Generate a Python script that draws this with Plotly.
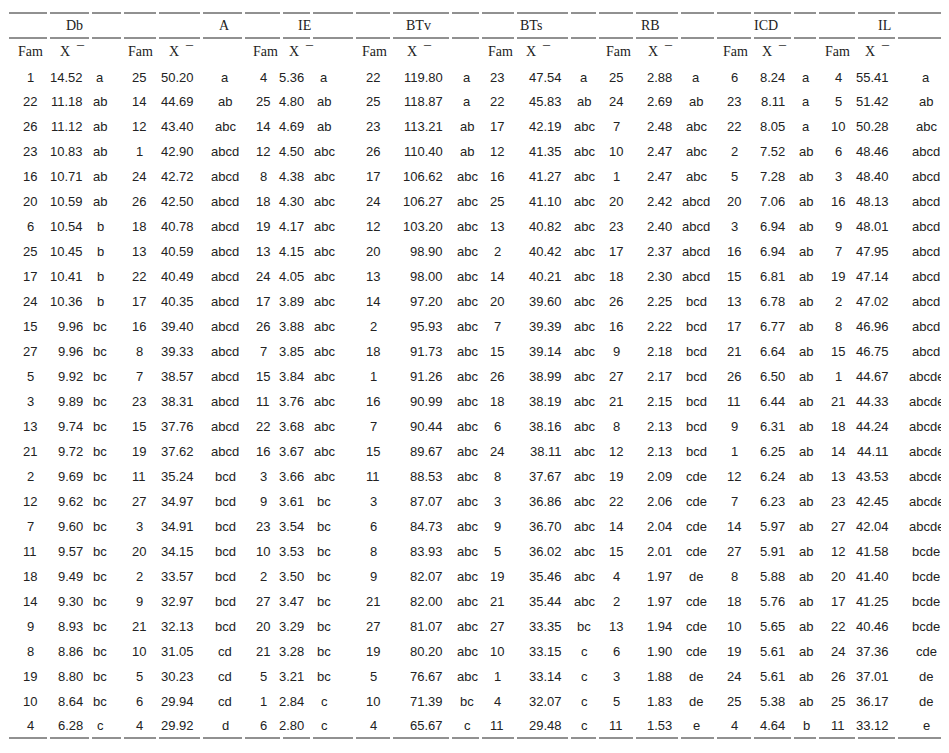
import plotly.graph_objects as go

groups = ["Db", "A", "IE", "BTv", "BTs", "RB", "ICD", "IL"]

db_fam = [1,22,26,23,16,20,6,25,17,24,15,27,5,3,13,21,2,12,7,11,18,14,9,8,19,10,4]
db_val = [14.52,11.18,11.12,10.83,10.71,10.59,10.54,10.45,10.41,10.36,9.96,9.96,9.92,9.89,9.74,9.72,9.69,9.62,9.60,9.57,9.49,9.30,8.93,8.86,8.80,8.64,6.28]
db_let = ["a"] + ["ab"]*5 + ["b"]*4 + ["bc"]*16 + ["c"]

a_fam = [25,14,12,1,24,26,18,13,22,17,16,8,7,23,15,19,11,27,3,20,2,9,21,10,5,6,4]
a_val = [50.20,44.69,43.40,42.90,42.72,42.50,40.78,40.59,40.49,40.35,39.40,39.33,38.57,38.31,37.76,37.62,35.24,34.97,34.91,34.15,33.57,32.97,32.13,31.05,30.23,29.94,29.92]
a_let = ["a","ab","abc"] + ["abcd"]*13 + ["bcd"]*7 + ["cd"]*3 + ["d"]

ie_fam = [4,25,14,12,8,18,19,13,24,17,26,7,15,11,22,16,3,9,23,10,2,27,20,21,5,1,6]
ie_val = [5.36,4.80,4.69,4.50,4.38,4.30,4.17,4.15,4.05,3.89,3.88,3.85,3.84,3.76,3.68,3.67,3.66,3.61,3.54,3.53,3.50,3.47,3.29,3.28,3.21,2.84,2.80]
ie_let = ["a","ab","ab"] + ["abc"]*14 + ["bc"]*8 + ["c"]*2

btv_fam = [22,25,23,26,17,24,12,20,13,14,2,18,1,16,7,15,11,3,6,8,9,21,27,19,5,10,4]
btv_val = [119.80,118.87,113.21,110.40,106.62,106.27,103.20,98.90,98.00,97.20,95.93,91.73,91.26,90.99,90.44,89.67,88.53,87.07,84.73,83.93,82.07,82.00,81.07,80.20,76.67,71.39,65.67]
btv_let = ["a","a","ab","ab"] + ["abc"]*21 + ["bc","c"]

bts_fam = [23,22,17,12,16,25,13,2,14,20,7,15,26,18,6,24,8,3,9,5,19,21,27,10,1,4,11]
bts_val = [47.54,45.83,42.19,41.35,41.27,41.10,40.82,40.42,40.21,39.60,39.39,39.14,38.99,38.19,38.16,38.11,37.67,36.86,36.70,36.02,35.46,35.44,33.35,33.15,33.14,32.07,29.48]
bts_let = ["a","ab"] + ["abc"]*20 + ["bc"] + ["c"]*4

rb_fam = [25,24,7,10,1,20,23,17,18,26,16,9,27,21,8,12,19,22,14,15,4,2,13,6,3,5,11]
rb_val = [2.88,2.69,2.48,2.47,2.47,2.42,2.40,2.37,2.30,2.25,2.22,2.18,2.17,2.15,2.13,2.13,2.09,2.06,2.04,2.01,1.97,1.97,1.94,1.90,1.88,1.83,1.53]
rb_let = ["a","ab","abc","abc","abc"] + ["abcd"]*4 + ["bcd"]*7 + ["cde"]*4 + ["de"] + ["cde"]*3 + ["de","de","e"]

icd_fam = [6,23,22,2,5,20,3,16,15,13,17,21,26,11,9,1,12,7,14,27,8,18,10,19,24,25,4]
icd_val = [8.24,8.11,8.05,7.52,7.28,7.06,6.94,6.94,6.81,6.78,6.77,6.64,6.50,6.44,6.31,6.25,6.24,6.23,5.97,5.91,5.88,5.76,5.65,5.61,5.61,5.38,4.64]
icd_let = ["a"]*3 + ["ab"]*23 + ["b"]

il_fam = [4,5,10,6,3,16,9,7,19,2,8,15,1,21,18,14,13,23,27,12,20,17,22,24,26,25,11]
il_val = [55.41,51.42,50.28,48.46,48.40,48.13,48.01,47.95,47.14,47.02,46.96,46.75,44.67,44.33,44.24,44.11,43.53,42.45,42.04,41.58,41.40,41.25,40.46,37.36,37.01,36.17,33.12]
il_let = ["a","ab","abc"] + ["abcd"]*9 + ["abcde"]*7 + ["bcde"]*4 + ["cde","de","de","e"]

data = [(db_fam,db_val,db_let),(a_fam,a_val,a_let),(ie_fam,ie_val,ie_let),(btv_fam,btv_val,btv_let),
        (bts_fam,bts_val,bts_let),(rb_fam,rb_val,rb_let),(icd_fam,icd_val,icd_let),(il_fam,il_val,il_let)]

# layout geometry (pixels)
fam_c = [22,131,255,365,489,608,726,830]
val_r = [77,188,298,437,556,666,779,883]
let_c = [92,217,316,459,576,688,798,918]
name_c = [66,216,296,410,523,642,758,876]
famh_l = [8,118,243,352,478,596,713,815]
xh_l = [50,159,279,397,516,638,752,855]
gstart = [0,115,236,347,473,590,708,810]
gend = gstart[1:] + [949]

Y0, DY = 69, 24.96
NUMFONT = dict(family="Liberation Sans", size=13, color="#222")
HFONT = dict(family="Liberation Serif", size=14, color="#222")

ann = []
shapes = []
for g in range(8):
    fam, val, let = data[g]
    for i in range(len(fam)):
        y = Y0 + i*DY
        ann.append(dict(x=fam_c[g], y=y, text=str(fam[i]), xanchor="center", font=NUMFONT))
        ann.append(dict(x=val_r[g], y=y, text=f"{val[i]:.2f}", xanchor="right", font=NUMFONT))
        ann.append(dict(x=let_c[g], y=y, text=let[i], xanchor="center", font=NUMFONT))
    ann.append(dict(x=name_c[g], y=17, text=groups[g], xanchor="center", font=HFONT))
    ann.append(dict(x=famh_l[g], y=43, text="Fam", xanchor="left", font=HFONT))
    ann.append(dict(x=xh_l[g], y=43, text="X  \u00af", xanchor="left", font=HFONT))
    s, e = gstart[g], gend[g]
    f_end = fam_c[g] + 17
    v_end = val_r[g] + 4
    segs = [(s+1, f_end), (f_end+3, v_end), (v_end+3, e-2)]
    for yy in (5, 30, 730):
        for a, b in segs:
            shapes.append(dict(type="line", x0=a, x1=b, y0=yy, y1=yy,
                               line=dict(color="#222", width=1), xref="x", yref="y"))
for a in ann:
    a.update(xref="x", yref="y", showarrow=False, yanchor="middle")

fig = go.Figure()
fig.update_layout(width=949, height=753,
                  margin=dict(l=0, r=0, t=0, b=0, pad=0, autoexpand=False),
                  paper_bgcolor="white", plot_bgcolor="white",
                  xaxis=dict(range=[0, 949], visible=False, fixedrange=True, automargin=False),
                  yaxis=dict(range=[753, 0], visible=False, fixedrange=True, automargin=False),
                  annotations=ann, shapes=shapes, showlegend=False)
fig.write_html("out.html")
